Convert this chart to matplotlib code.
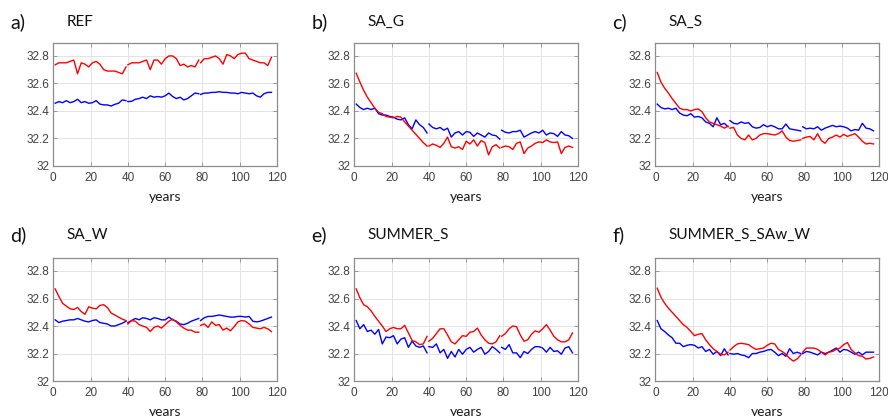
import matplotlib.pyplot as plt
import numpy as np

# years sampled; three run segments with a break between them
seg_years = [list(range(1, 40, 2)), list(range(40, 79, 2)), list(range(79, 118, 2))]

titles = ["REF", "SA_G", "SA_S", "SA_W", "SUMMER_S", "SUMMER_S_SAw_W"]
letters = ["a)", "b)", "c)", "d)", "e)", "f)"]

red_a = [32.735, 32.75, 32.75, 32.75, 32.76, 32.77, 32.67, 32.75, 32.74, 32.72,
         32.75, 32.76, 32.74, 32.70, 32.69, 32.69, 32.69, 32.68, 32.67, 32.72,
         32.735, 32.75, 32.75, 32.75, 32.76, 32.77, 32.70, 32.77, 32.77, 32.74,
         32.78, 32.80, 32.80, 32.78, 32.73, 32.74, 32.72, 32.73, 32.72, 32.77,
         32.75, 32.78, 32.78, 32.79, 32.80, 32.78, 32.74, 32.81, 32.80, 32.78,
         32.81, 32.82, 32.82, 32.78, 32.77, 32.76, 32.75, 32.75, 32.73, 32.79]
blue_a = [32.456, 32.468, 32.46, 32.475, 32.46, 32.468, 32.485, 32.46, 32.468, 32.456,
          32.46, 32.475, 32.45, 32.444, 32.444, 32.436, 32.448, 32.456, 32.48, 32.475,
          32.468, 32.47, 32.485, 32.49, 32.50, 32.49, 32.51, 32.50, 32.505, 32.50,
          32.51, 32.53, 32.505, 32.49, 32.50, 32.48, 32.49, 32.51, 32.53, 32.525,
          32.52, 32.53, 32.53, 32.535, 32.535, 32.54, 32.535, 32.535, 32.53, 32.53,
          32.525, 32.535, 32.53, 32.525, 32.53, 32.51, 32.50, 32.525, 32.535, 32.535]

red_b = [32.674, 32.61, 32.55, 32.50, 32.46, 32.42, 32.39, 32.38, 32.36, 32.355,
         32.35, 32.36, 32.355, 32.32, 32.29, 32.26, 32.23, 32.20, 32.17, 32.145,
         32.145, 32.16, 32.15, 32.135, 32.165, 32.21, 32.14, 32.13, 32.14, 32.12,
         32.18, 32.16, 32.19, 32.145, 32.185, 32.17, 32.08, 32.14, 32.155, 32.13,
         32.135, 32.145, 32.14, 32.12, 32.165, 32.175, 32.09, 32.13, 32.145, 32.165,
         32.175, 32.17, 32.19, 32.175, 32.17, 32.175, 32.09, 32.135, 32.145, 32.135]
blue_b = [32.45, 32.425, 32.41, 32.42, 32.41, 32.42, 32.38, 32.37, 32.37, 32.36,
          32.355, 32.34, 32.335, 32.35, 32.30, 32.27, 32.335, 32.30, 32.28, 32.24,
          32.305, 32.28, 32.27, 32.28, 32.26, 32.275, 32.21, 32.24, 32.25, 32.225,
          32.25, 32.245, 32.215, 32.24, 32.225, 32.21, 32.24, 32.225, 32.22, 32.195,
          32.26, 32.245, 32.24, 32.25, 32.25, 32.26, 32.21, 32.225, 32.24, 32.25,
          32.24, 32.26, 32.225, 32.24, 32.235, 32.215, 32.25, 32.225, 32.22, 32.20]

red_c = [32.68, 32.61, 32.565, 32.53, 32.49, 32.455, 32.42, 32.41, 32.41, 32.40,
         32.41, 32.415, 32.395, 32.35, 32.32, 32.31, 32.30, 32.29, 32.275, 32.29,
         32.275, 32.28, 32.225, 32.20, 32.19, 32.225, 32.19, 32.20, 32.225, 32.235,
         32.235, 32.23, 32.225, 32.235, 32.255, 32.21, 32.185, 32.18, 32.185, 32.19,
         32.20, 32.21, 32.215, 32.19, 32.235, 32.185, 32.165, 32.20, 32.21, 32.225,
         32.21, 32.23, 32.215, 32.225, 32.235, 32.21, 32.18, 32.16, 32.165, 32.16]
blue_c = [32.45, 32.425, 32.415, 32.42, 32.41, 32.42, 32.385, 32.37, 32.365, 32.38,
          32.355, 32.36, 32.35, 32.32, 32.31, 32.285, 32.35, 32.30, 32.31, 32.285,
          32.33, 32.31, 32.305, 32.32, 32.31, 32.315, 32.285, 32.275, 32.28, 32.30,
          32.285, 32.295, 32.285, 32.27, 32.27, 32.305, 32.27, 32.265, 32.26, 32.255,
          32.285, 32.27, 32.275, 32.27, 32.285, 32.26, 32.275, 32.285, 32.295, 32.285,
          32.29, 32.285, 32.275, 32.255, 32.265, 32.26, 32.31, 32.275, 32.27, 32.255]

red_d = [32.67, 32.615, 32.565, 32.545, 32.525, 32.52, 32.535, 32.505, 32.485, 32.54,
         32.53, 32.525, 32.55, 32.555, 32.535, 32.495, 32.48, 32.465, 32.45, 32.44,
         32.415, 32.44, 32.435, 32.41, 32.40, 32.39, 32.36, 32.39, 32.40, 32.385,
         32.41, 32.435, 32.45, 32.43, 32.405, 32.385, 32.37, 32.37, 32.355, 32.355,
         32.405, 32.415, 32.39, 32.43, 32.405, 32.41, 32.37, 32.385, 32.365, 32.395,
         32.43, 32.44, 32.435, 32.415, 32.39, 32.385, 32.38, 32.39, 32.38, 32.36]
blue_d = [32.445, 32.425, 32.435, 32.44, 32.445, 32.445, 32.455, 32.445, 32.435, 32.43,
          32.44, 32.445, 32.425, 32.42, 32.415, 32.40, 32.40, 32.41, 32.42, 32.435,
          32.425, 32.44, 32.455, 32.445, 32.46, 32.455, 32.445, 32.46, 32.455, 32.445,
          32.445, 32.465, 32.445, 32.435, 32.415, 32.41, 32.42, 32.435, 32.445, 32.455,
          32.44, 32.46, 32.47, 32.47, 32.475, 32.48, 32.475, 32.47, 32.465, 32.465,
          32.47, 32.47, 32.465, 32.47, 32.435, 32.43, 32.435, 32.445, 32.455, 32.465]

red_e = [32.67, 32.605, 32.555, 32.54, 32.51, 32.47, 32.435, 32.40, 32.36, 32.38,
         32.39, 32.38, 32.38, 32.405, 32.35, 32.295, 32.285, 32.265, 32.27, 32.325,
         32.29, 32.31, 32.345, 32.38, 32.38, 32.335, 32.285, 32.27, 32.30, 32.33,
         32.325, 32.355, 32.36, 32.385, 32.335, 32.30, 32.275, 32.27, 32.285, 32.33,
         32.325, 32.345, 32.38, 32.40, 32.395, 32.335, 32.29, 32.30, 32.34, 32.365,
         32.355, 32.38, 32.41, 32.37, 32.325, 32.30, 32.285, 32.285, 32.30, 32.35]
blue_e = [32.44, 32.38, 32.41, 32.36, 32.37, 32.34, 32.375, 32.27, 32.32, 32.315,
          32.33, 32.27, 32.305, 32.315, 32.245, 32.29, 32.255, 32.245, 32.255, 32.205,
          32.25, 32.245, 32.27, 32.205, 32.23, 32.165, 32.215, 32.175, 32.23, 32.195,
          32.23, 32.245, 32.21, 32.23, 32.245, 32.195, 32.215, 32.25, 32.23, 32.205,
          32.245, 32.23, 32.265, 32.205, 32.205, 32.17, 32.215, 32.20, 32.23, 32.25,
          32.25, 32.24, 32.21, 32.245, 32.215, 32.22, 32.195, 32.24, 32.25, 32.205]

red_f = [32.675, 32.61, 32.565, 32.53, 32.50, 32.47, 32.44, 32.41, 32.39, 32.36,
         32.33, 32.34, 32.345, 32.30, 32.265, 32.235, 32.215, 32.195, 32.19, 32.21,
         32.225, 32.25, 32.27, 32.275, 32.27, 32.265, 32.245, 32.23, 32.235, 32.24,
         32.26, 32.275, 32.27, 32.23, 32.215, 32.195, 32.165, 32.145, 32.16, 32.19,
         32.21, 32.24, 32.24, 32.24, 32.23, 32.21, 32.19, 32.21, 32.215, 32.23,
         32.24, 32.265, 32.28, 32.23, 32.205, 32.185, 32.18, 32.16, 32.165, 32.175]
blue_f = [32.44, 32.38, 32.36, 32.335, 32.315, 32.275, 32.275, 32.25, 32.26, 32.265,
          32.26, 32.24, 32.25, 32.215, 32.23, 32.195, 32.215, 32.185, 32.235, 32.19,
          32.20, 32.195, 32.20, 32.19, 32.185, 32.17, 32.20, 32.20, 32.21, 32.215,
          32.225, 32.23, 32.21, 32.185, 32.20, 32.18, 32.235, 32.20, 32.21, 32.20,
          32.20, 32.215, 32.21, 32.20, 32.19, 32.21, 32.20, 32.21, 32.225, 32.24,
          32.21, 32.23, 32.225, 32.21, 32.195, 32.21, 32.19, 32.21, 32.21, 32.21]

reds = [red_a, red_b, red_c, red_d, red_e, red_f]
blues = [blue_a, blue_b, blue_c, blue_d, blue_e, blue_f]

xticks = [0, 20, 40, 60, 80, 100, 120]
yticks = [32, 32.2, 32.4, 32.6, 32.8]
ytick_labels = ["32", "32.2", "32.4", "32.6", "32.8"]

fig = plt.figure(figsize=(8.88, 4.16), dpi=100)

lefts = [0.060, 0.399, 0.738]
bottoms = [0.601, 0.084]
w, h = 0.252, 0.296

for i in range(6):
    r, c = divmod(i, 3)
    ax = fig.add_axes([lefts[c], bottoms[r], w, h])
    start = 0
    for yrs in seg_years:
        n = len(yrs)
        ax.plot(yrs, blues[i][start:start + n], color="#0000ff", lw=1.0)
        ax.plot(yrs, reds[i][start:start + n], color="#ff0000", lw=1.0)
        start += n
    ax.set_xlim(0, 120)
    ax.set_ylim(32, 32.895)
    ax.set_xticks(xticks)
    ax.set_yticks(yticks)
    ax.set_yticklabels(ytick_labels)
    ax.grid(True, color="#e3e3e3", lw=0.7)
    ax.set_axisbelow(True)
    for sp in ax.spines.values():
        sp.set_color("#8c8c8c")
        sp.set_linewidth(0.9)
    ax.tick_params(direction="in", length=3, width=0.6, color="#8c8c8c",
                   labelsize=8.5, labelcolor="#404040", top=True, right=True)
    ax.tick_params(axis="x", pad=4)
    ax.tick_params(axis="y", pad=3)
    for lab in ax.get_xticklabels() + ax.get_yticklabels():
        lab.set_family("Liberation Sans")
    ax.set_xlabel("years", family="Lato", fontsize=10, labelpad=5.5, color="#1a1a1a")

    # panel letter and run name above each axes
    x0 = lefts[c] * 888
    ytxt = 1 - (22 if r == 0 else 235) / 416
    fig.text((x0 - 43) / 888, ytxt, letters[i], family="Lato", fontsize=14,
             va="center", ha="left", color="#111111")
    fig.text((x0 + 13) / 888, ytxt, titles[i], family="Lato", fontsize=11,
             va="center", ha="left", color="#111111")

plt.savefig("out.png", dpi=100, facecolor="white")
